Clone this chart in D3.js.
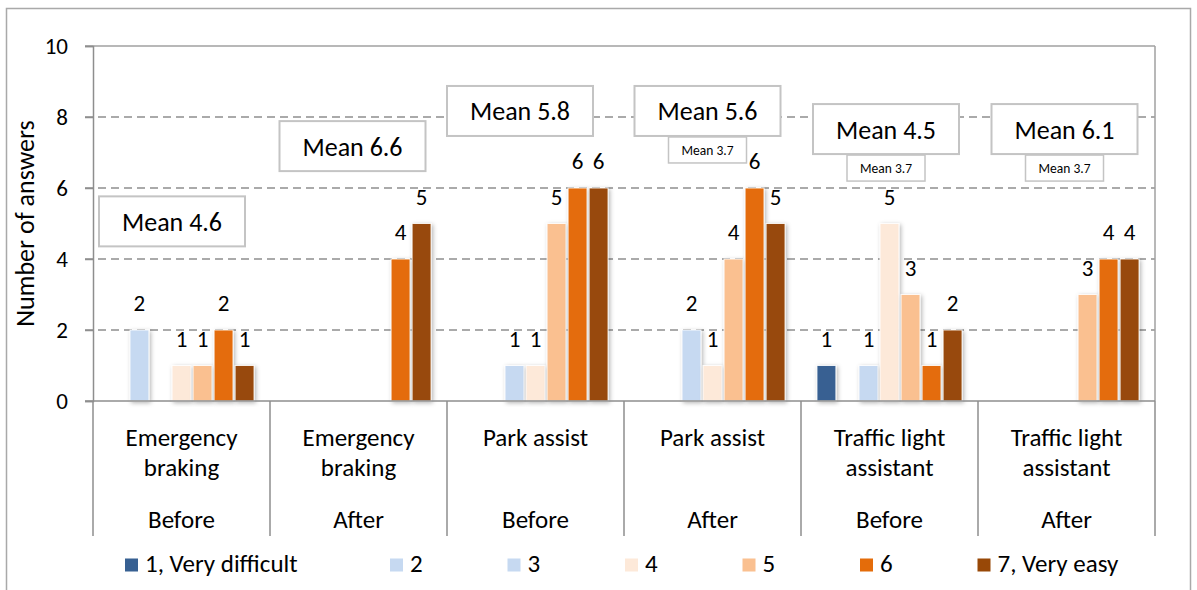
<!DOCTYPE html>
<html>
<head>
<meta charset="utf-8">
<script src="https://cdn.jsdelivr.net/npm/d3@7/dist/d3.min.js"></script>
<style>
  html, body { margin: 0; padding: 0; background: #ffffff; }
  svg { display: block; }
  text { font-family: Carlito, Calibri, Lato, "Open Sans", sans-serif; fill: #000; }
</style>
</head>
<body>
<svg id="chart" width="1197" height="590"></svg>
<script>
// ---- data ----------------------------------------------------------------
const features = ["Emergency braking", "Emergency braking", "Park assist", "Park assist",
                  "Traffic light assistant", "Traffic light assistant"];
const featureLines = [["Emergency", "braking"], ["Emergency", "braking"], ["Park assist"],
                      ["Park assist"], ["Traffic light", "assistant"], ["Traffic light", "assistant"]];
const phases = ["Before", "After", "Before", "After", "Before", "After"];
const seriesNames = ["1, Very difficult", "2", "3", "4", "5", "6", "7, Very easy"];

// number of answers per rating (rows = rating 1..7, columns = groups)
const rating1 = [0, 0, 0, 0, 1, 0];
const rating2 = [2, 0, 0, 0, 0, 0];
const rating3 = [0, 0, 1, 2, 1, 0];
const rating4 = [1, 0, 1, 1, 5, 0];
const rating5 = [1, 0, 5, 4, 3, 3];
const rating6 = [2, 4, 6, 6, 1, 4];
const rating7 = [1, 5, 6, 5, 2, 4];
const seriesValues = [rating1, rating2, rating3, rating4, rating5, rating6, rating7];

const meanValues = [4.6, 6.6, 5.8, 5.6, 4.5, 6.1];
const referenceMeans = [null, null, null, 3.7, 3.7, 3.7];

const yTicks = [0, 2, 4, 6, 8, 10];

// ---- styling ---------------------------------------------------------------
const colors = ["#376092", "#c6d9f1", "#c6d9f1", "#fde9d9", "#fac090", "#e46c0a", "#984807"];
const axisColor = "#8e8e8e";
const boxStroke = "#c4c4c4";

// placement of the mean boxes: horizontal shift from group centre (px)
// and vertical centre in axis units
const meanBoxShift = [-9.5, -6, -15.5, -5, -3.5, -2];
const meanBoxLevel = [5.06, 7.18, 8.17, 8.17, 7.66, 7.66];

// ---- layout ----------------------------------------------------------------
const svg = d3.select("#chart");
const plot = { left: 93, right: 1155, top: 46, bottom: 401 };

const defs = svg.append("defs");
const shadow = defs.append("filter").attr("id", "barShadow")
  .attr("x", "-40%").attr("y", "-10%").attr("width", "180%").attr("height", "125%");
shadow.append("feDropShadow").attr("dx", 1.5).attr("dy", 1.5)
  .attr("stdDeviation", 2).attr("flood-color", "#000").attr("flood-opacity", 0.3);

// outer chart frame
svg.append("rect").attr("x", 6.5).attr("y", 8.5).attr("width", 1184).attr("height", 600)
  .attr("fill", "none").attr("stroke", "#a9a9a9").attr("stroke-width", 1.5);

const x0 = d3.scaleBand().domain(d3.range(features.length))
  .range([plot.left, plot.right]).paddingInner(0).paddingOuter(0);
const x1 = d3.scaleBand().domain(d3.range(seriesNames.length))
  .range([0, x0.bandwidth()]).paddingInner(0.1).paddingOuter(0.76);
const y = d3.scaleLinear().domain([0, 10]).range([plot.bottom, plot.top]);

// gridlines
svg.append("g").selectAll("line").data(yTicks.filter(t => t > 0 && t < 10)).join("line")
  .attr("x1", plot.left - 8).attr("x2", plot.right)
  .attr("y1", d => y(d)).attr("y2", d => y(d))
  .attr("stroke", axisColor).attr("stroke-width", 1.5).attr("stroke-dasharray", "8,5");

// plot frame: top and right
svg.append("line").attr("x1", plot.left - 8).attr("x2", plot.right)
  .attr("y1", y(10)).attr("y2", y(10)).attr("stroke", "#a0a0a0").attr("stroke-width", 1.5);
svg.append("line").attr("x1", plot.right).attr("x2", plot.right)
  .attr("y1", plot.top).attr("y2", plot.bottom).attr("stroke", "#a0a0a0").attr("stroke-width", 1.5);

// y axis
const yAxis = d3.axisLeft(y).tickValues(yTicks).tickSize(8).tickPadding(17);
const yG = svg.append("g").attr("transform", `translate(${plot.left},0)`).call(yAxis);
yG.select(".domain").attr("stroke", axisColor).attr("stroke-width", 1.5);
yG.selectAll(".tick line").attr("stroke", axisColor).attr("stroke-width", 1.5);
yG.selectAll(".tick text").attr("font-size", 23).attr("dy", "0.34em")
  .style("font-family", "Carlito, Calibri, Lato, sans-serif").attr("fill", "#000");

svg.append("text")
  .attr("transform", `translate(34,${(plot.top + plot.bottom) / 2}) rotate(-90)`)
  .attr("text-anchor", "middle").attr("font-size", 26).text("Number of answers");

// bars
const groups = svg.append("g").selectAll("g").data(d3.range(features.length)).join("g")
  .attr("transform", g => `translate(${x0(g)},0)`);

groups.selectAll("rect").data(g => seriesValues.map((s, i) => ({ s: i, v: s[g] })).filter(d => d.v > 0))
  .join("rect")
  .attr("x", d => x1(d.s)).attr("width", x1.bandwidth())
  .attr("y", d => y(d.v)).attr("height", d => y(0) - y(d.v))
  .attr("fill", d => colors[d.s])
  .attr("stroke", "rgba(255,255,255,0.85)").attr("stroke-width", 1)
  .attr("filter", "url(#barShadow)");

groups.selectAll("text.val").data(g => seriesValues.map((s, i) => ({ s: i, v: s[g] })).filter(d => d.v > 0))
  .join("text").attr("class", "val")
  .attr("x", d => x1(d.s) + x1.bandwidth() / 2)
  .attr("y", d => y(d.v) - 19)
  .attr("text-anchor", "middle").attr("font-size", 23)
  .text(d => d.v);

// x axis line and category separators
svg.append("line").attr("x1", plot.left - 8).attr("x2", plot.right)
  .attr("y1", plot.bottom).attr("y2", plot.bottom)
  .attr("stroke", axisColor).attr("stroke-width", 1.5);
const seps = d3.range(features.length + 1).map(i => i < features.length ? x0(i) : plot.right);
svg.append("g").selectAll("line").data(seps).join("line")
  .attr("x1", d => d).attr("x2", d => d)
  .attr("y1", plot.bottom).attr("y2", 536)
  .attr("stroke", axisColor).attr("stroke-width", 1.5);

// category labels
const catG = svg.append("g").selectAll("g").data(d3.range(features.length)).join("g")
  .attr("transform", g => `translate(${x0(g) + x0.bandwidth() / 2},0)`);
catG.selectAll("text.feat").data(g => featureLines[g]).join("text").attr("class", "feat")
  .attr("x", 0).attr("y", (d, i) => 446 + i * 30)
  .attr("text-anchor", "middle").attr("font-size", 25).text(d => d);
catG.append("text").attr("x", 0).attr("y", 528)
  .attr("text-anchor", "middle").attr("font-size", 25).text(g => phases[g]);

// mean boxes
const meanG = svg.append("g").selectAll("g").data(d3.range(features.length)).join("g")
  .attr("transform", g => `translate(${x0(g) + x0.bandwidth() / 2 + meanBoxShift[g]},${y(meanBoxLevel[g])})`);
meanG.append("rect").attr("x", -73).attr("y", -25).attr("width", 146).attr("height", 50)
  .attr("fill", "#fff").attr("stroke", boxStroke).attr("stroke-width", 2);
meanG.append("text").attr("x", 0).attr("y", 9.5).attr("text-anchor", "middle")
  .attr("font-size", 26).text(g => `Mean ${meanValues[g].toFixed(1)}`);

const refG = meanG.filter(g => referenceMeans[g] !== null);
refG.append("rect").attr("x", -39).attr("y", 26).attr("width", 78).attr("height", 26)
  .attr("fill", "#fff").attr("stroke", boxStroke).attr("stroke-width", 1.5);
refG.append("text").attr("x", 0).attr("y", 44).attr("text-anchor", "middle")
  .attr("font-size", 13.5).text(g => `Mean ${referenceMeans[g].toFixed(1)}`);

// legend
const legendX = [125, 390, 507.5, 625, 742.5, 860, 977.5];
const leg = svg.append("g").selectAll("g").data(seriesNames).join("g")
  .attr("transform", (d, i) => `translate(${legendX[i]},565)`);
leg.append("rect").attr("x", 0).attr("y", -6.5).attr("width", 13).attr("height", 13)
  .attr("fill", (d, i) => colors[i]);
leg.append("text").attr("x", 20).attr("y", 7)
  .attr("font-size", 25).text(d => d);
</script>
</body>
</html>
